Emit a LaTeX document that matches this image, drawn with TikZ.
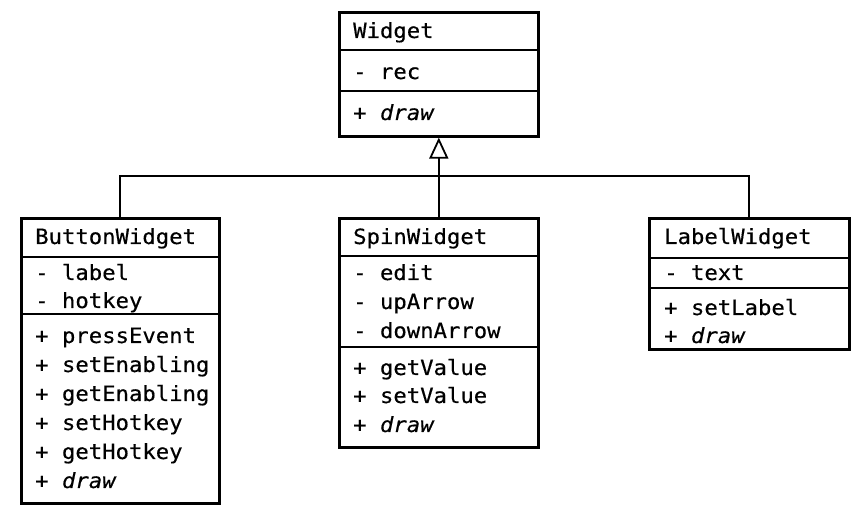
\documentclass[tikz,border=0pt]{standalone}
\usepackage{fontspec}
\setmonofont[FakeStretch=1.06, FakeBold=0.4]{DejaVu Sans Mono}
\usetikzlibrary{arrows.meta}
\tikzset{
  classbox/.style={draw, line width=2.6pt, inner sep=0pt, anchor=north west, fill=white},
  divider/.style={line width=2.6pt},
  conn/.style={line width=1.8pt},
  txt/.style={anchor=base west, inner sep=0pt, font=\ttfamily\fontsize{21}{29}\selectfont},
  inherit/.style={conn, -{Triangle[open, width=19pt, length=21pt, line width=1.8pt]}}
}
\begin{document}
\begin{tikzpicture}[x=1pt, y=-1pt]
\useasboundingbox (0,0) rectangle (855,510);
\coordinate (bus) at (437.5,176);
% class boxes
\node[classbox, minimum width=199pt, minimum height=124pt] (widget) at (338,11) {};
\node[classbox, minimum width=198pt, minimum height=285pt] (button) at (20,217) {};
\node[classbox, minimum width=199pt, minimum height=229pt] (spin) at (338,217) {};
\node[classbox, minimum width=200pt, minimum height=131pt] (label) at (648,217) {};
% dividers
\draw[divider] (widget.west |- 0,50) -- (widget.east |- 0,50);
\draw[divider] (widget.west |- 0,91) -- (widget.east |- 0,91);
\draw[divider] (button.west |- 0,257) -- (button.east |- 0,257);
\draw[divider] (button.west |- 0,314) -- (button.east |- 0,314);
\draw[divider] (spin.west |- 0,256) -- (spin.east |- 0,256);
\draw[divider] (spin.west |- 0,347) -- (spin.east |- 0,347);
\draw[divider] (label.west |- 0,258) -- (label.east |- 0,258);
\draw[divider] (label.west |- 0,288) -- (label.east |- 0,288);
% connectors
\draw[conn] (button.north) |- (bus) -| (label.north);
\draw[inherit] (spin.north) -- (widget.south);
% Widget texts
\node[txt] (w0) at (353,38) {Widget};
\node[txt] (w1) at (353,79) {-~rec};
\node[txt] (w2) at (353,120) {+~\textit{draw}};
% ButtonWidget texts
\node[txt] (b0) at (35,244) {ButtonWidget};
\node[txt] (b1) at (35,280) {-~label};
\node[txt] (b2) at (35,308) {-~hotkey};
\node[txt] (b3) at (35,343) {+~pressEvent};
\node[txt] (b4) at (35,372) {+~setEnabling};
\node[txt] (b5) at (35,401) {+~getEnabling};
\node[txt] (b6) at (35,430) {+~setHotkey};
\node[txt] (b7) at (35,459) {+~getHotkey};
\node[txt] (b8) at (35,488) {+~\textit{draw}};
% SpinWidget texts
\node[txt] (s0) at (353,244) {SpinWidget};
\node[txt] (s1) at (353,280) {-~edit};
\node[txt] (s2) at (353,309) {-~upArrow};
\node[txt] (s3) at (353,338) {-~downArrow};
\node[txt] (s4) at (353,375) {+~getValue};
\node[txt] (s5) at (353,403) {+~setValue};
\node[txt] (s6) at (353,432) {+~\textit{draw}};
% LabelWidget texts
\node[txt] (l0) at (664,244) {LabelWidget};
\node[txt] (l1) at (664,280) {-~text};
\node[txt] (l2) at (664,315) {+~setLabel};
\node[txt] (l3) at (664,343) {+~\textit{draw}};
\end{tikzpicture}
\end{document}
